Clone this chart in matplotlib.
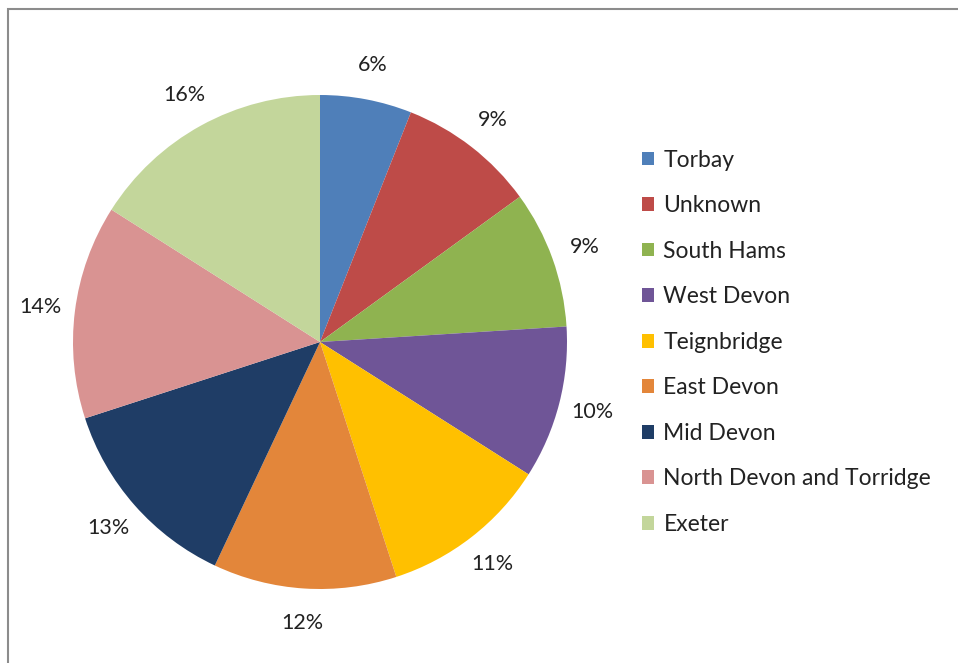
import matplotlib.pyplot as plt
from matplotlib.patches import Rectangle

areas = ['Torbay', 'Unknown', 'South Hams', 'West Devon', 'Teignbridge',
         'East Devon', 'Mid Devon', 'North Devon and Torridge', 'Exeter']
shares = [6, 9, 9, 10, 11, 12, 13, 14, 16]
colours = ['#4F7FB9', '#BE4B48', '#8FB350', '#6F5597', '#FFC000',
           '#E3863A', '#1F3D66', '#D99392', '#C3D69B']

plt.rcParams['font.family'] = ['Lato', 'DejaVu Sans']

fig = plt.figure(figsize=(9.58, 6.63), dpi=100)

# grey chart frame
fig.patches.append(Rectangle((8 / 958, -0.01), 1.0, (663 - 9) / 663 + 0.01,
                             transform=fig.transFigure, fill=False,
                             edgecolor='#8c8c8c', linewidth=1.5))

side = 247 * 2.5
ax = fig.add_axes([(320 - side / 2) / 958, (663 - 342 - side / 2) / 663,
                   side / 958, side / 663])
wedges, texts, autotexts = ax.pie(
    shares, colors=colours, startangle=90, counterclock=False,
    autopct=lambda p: f'{p:.0f}%', pctdistance=1.14,
    wedgeprops=dict(linewidth=0))
for t in autotexts:
    t.set_fontsize(15.5)
    t.set_color('#222222')
ax.set_xlim(-1.25, 1.25)
ax.set_ylim(-1.25, 1.25)
ax.set_aspect('equal')
ax.axis('off')

fig.legend(wedges, areas, loc='upper left',
           bbox_to_anchor=(621 / 958, 1 - 129 / 663),
           frameon=False, fontsize=16.5, handlelength=0.55, handleheight=0.55,
           handletextpad=0.4, labelspacing=1.07, labelcolor='#222222')

fig.savefig('out.png', dpi=100)
